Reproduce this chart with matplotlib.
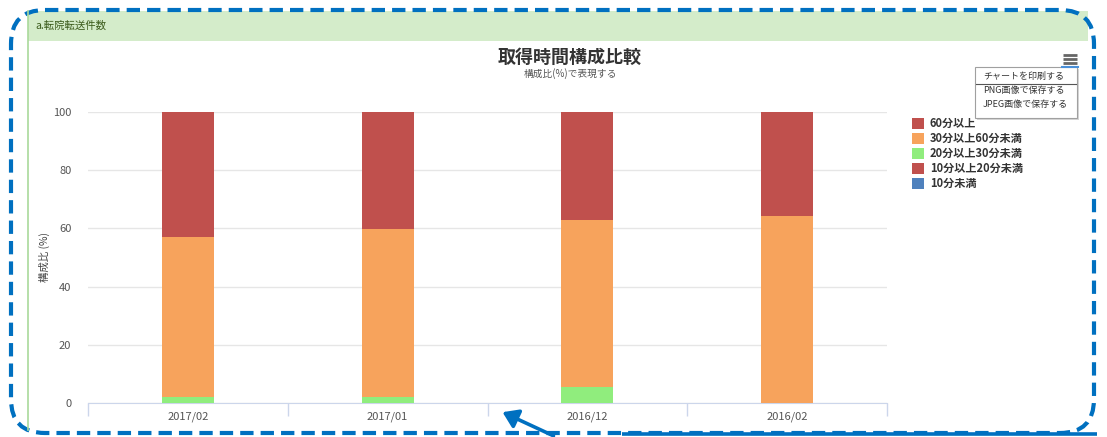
import matplotlib
matplotlib.use("Agg")
import matplotlib.pyplot as plt
from matplotlib.patches import FancyBboxPatch, Rectangle, FancyArrowPatch
import numpy as np

plt.rcParams["font.family"] = ["Noto Sans CJK JP", "DejaVu Sans"]

categories = ["2017/02", "2017/01", "2016/12", "2016/02"]
series_names = ["60分以上", "30分以上60分未満", "20分以上30分未満", "10分以上20分未満", "10分未満"]
series_colors = ["#c0504d", "#f7a35c", "#90ed7d", "#c0504d", "#4f81bd"]
over60 = [43.0, 40.2, 37.1, 35.7]
m30_60 = [55.0, 57.8, 57.4, 64.3]
m20_30 = [2.0, 2.0, 5.5, 0.0]
m10_20 = [0.0, 0.0, 0.0, 0.0]
under10 = [0.0, 0.0, 0.0, 0.0]
menu_items = ["チャートを印刷する", "PNG画像で保存する", "JPEG画像で保存する"]

W, H = 1107, 437
fig = plt.figure(figsize=(W / 100, H / 100), dpi=100)
fig.patch.set_facecolor("white")

# main plot area
ax = fig.add_axes([88 / W, (H - 403) / H, (887 - 88) / W, (403 - 112) / H])
x = np.arange(len(categories))
stack = [under10, m10_20, m20_30, m30_60, over60]
colors_bottom_up = series_colors[::-1]
bottom = np.zeros(len(categories))
for vals, col in zip(stack, colors_bottom_up):
    v = np.array(vals)
    ax.bar(x, v, bottom=bottom, width=0.26, color=col, zorder=3, linewidth=0)
    bottom += v

ax.set_xlim(-0.5, len(categories) - 0.5)
ax.set_ylim(0, 100)
ax.set_yticks(range(0, 101, 20))
ax.grid(axis="y", color="#e6e6e6", linewidth=1, zorder=0)
for s in ["top", "right", "left"]:
    ax.spines[s].set_visible(False)
ax.spines["bottom"].set_color("#ccd6eb")
ax.tick_params(axis="y", length=0, labelsize=8, labelcolor="#555555", pad=12)
ax.set_xticks(x)
ax.set_xticklabels(categories)
ax.tick_params(axis="x", length=0, labelsize=8, labelcolor="#555555", pad=6)
ax.set_xticks(np.arange(-0.5, len(categories)), minor=True)
ax.tick_params(axis="x", which="minor", length=9, color="#ccd6eb", width=1)
ax.set_ylabel("構成比 (%)", fontsize=7.5, color="#444444", labelpad=2)

# overlay for decorations in pixel coords
ov = fig.add_axes([0, 0, 1, 1], zorder=5)
ov.set_xlim(0, W)
ov.set_ylim(H, 0)
ov.axis("off")
ov.patch.set_alpha(0)

ov.add_patch(Rectangle((28, 11), 1060, 30, facecolor="#d4ecca", edgecolor="none"))
ov.plot([28, 28], [11, 430], color="#a9d99b", lw=1.2)
ov.text(35, 26, "a.転院転送件数", fontsize=7.5, color="#3a5a1a", va="center")

fig.text(570 / W, 1 - 57 / H, "取得時間構成比較", fontsize=13, fontweight="bold",
         color="#333333", ha="center", va="center")
fig.text(570 / W, 1 - 74 / H, "構成比(%)で表現する", fontsize=7, color="#555555",
         ha="center", va="center")

# legend
for i, (name, col) in enumerate(zip(series_names, series_colors)):
    yy = 123 + i * 15
    ov.add_patch(Rectangle((912, yy - 5.5), 12, 11, facecolor=col, edgecolor="none"))
    ov.text(930, yy, name, fontsize=8, fontweight="bold", color="#333333", va="center")

# export menu
ov.add_patch(Rectangle((977, 69), 102, 51, facecolor="#bbbbbb", edgecolor="none", alpha=0.6))
ov.add_patch(Rectangle((975, 67), 102, 51, facecolor="white", edgecolor="#a0a0a0", lw=0.8))
ov.plot([976, 1076], [84, 84], color="#555555", lw=0.8)
for i, item in enumerate(menu_items):
    ov.text(983, 76 + i * 14.5, item, fontsize=6.5, color="#333333", va="center")
for yy in [55, 59, 63]:
    ov.plot([1063, 1077], [yy, yy], color="#666666", lw=2, solid_capstyle="butt")
ov.plot([1062, 1078], [66.5, 66.5], color="#4a90d9", lw=1.5)

# dashed rounded frame
frame = FancyBboxPatch((11, 10), 1083, 423, boxstyle="round,pad=0,rounding_size=34",
                       facecolor="none", edgecolor="#0070c0", lw=3,
                       linestyle=(0, (3.2, 1.7)))
ov.add_patch(frame)
ov.plot([622, 1097], [434, 434], color="#0070c0", lw=2.6, solid_capstyle="butt")
ov.add_patch(FancyArrowPatch((556, 437), (500, 411), arrowstyle="-|>,head_length=6,head_width=4",
                             color="#0070c0", lw=2.6, mutation_scale=1.5))

fig.savefig("out.png", dpi=100, facecolor="white")
